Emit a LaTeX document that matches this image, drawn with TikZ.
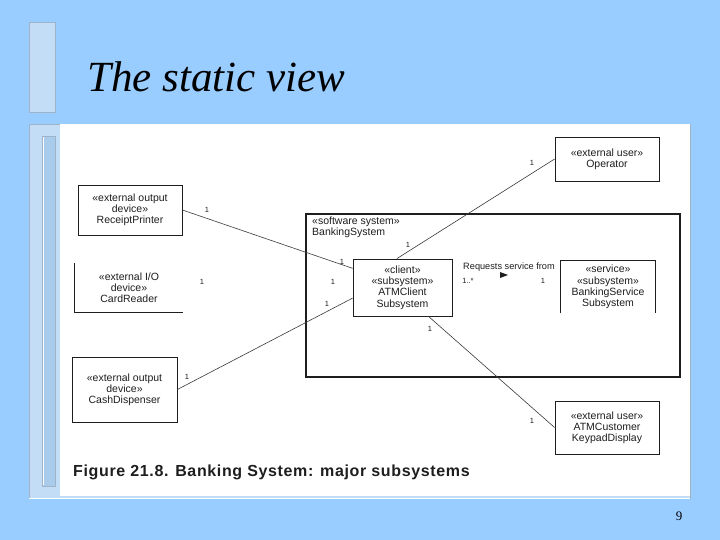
\documentclass[tikz,border=0pt]{standalone}
\usepackage{fontspec}
\setmainfont{Liberation Serif}
\setsansfont{Liberation Sans}
\usepackage{tikz}
\usetikzlibrary{arrows.meta}
\definecolor{slideBg}{HTML}{99CCFF}
\definecolor{slidePanel}{HTML}{C4DDF6}
\definecolor{slideBar}{HTML}{A9CBEC}
\definecolor{slideEdge}{HTML}{9FB3C8}
\definecolor{umlInk}{HTML}{1E1E1E}
\definecolor{umlLine}{HTML}{3A3A3A}

\begin{document}
\begin{tikzpicture}[
  x=1pt,y=-1pt,
  box/.style={draw=umlInk,line width=0.8pt,inner sep=0pt,align=center,text=umlInk,
    font=\sffamily\fontsize{10.5}{11.2}\selectfont},
  assoc/.style={umlLine,line width=0.6pt},
  mult/.style={font=\sffamily\fontsize{7.5}{7.5}\selectfont,text=umlInk,inner sep=0pt}
]
% slide background
\useasboundingbox (0,0) rectangle (720,540);
\fill[slideBg] (0,0) rectangle (720,540);
\filldraw[fill=slidePanel,draw=slideEdge,line width=1pt] (29,23) rectangle (55,113);
\filldraw[fill=slidePanel,draw=slideEdge,line width=1pt] (29,125) rectangle (690,498);
\draw[white,line width=1pt] (29,498) -- (690,498);
\filldraw[fill=slideBar,draw=slideEdge,line width=1pt] (42,137) rectangle (55,486);
\draw[white,line width=1.2pt] (43.5,137) -- (43.5,485);
\fill[white] (60,124) rectangle (690,496);
\node[anchor=base west,font=\itshape\fontsize{43}{43}\selectfont,inner sep=0pt] (title) at (87,92) {The static view};
\node[anchor=base,font=\fontsize{13}{13}\selectfont,inner sep=0pt] (page) at (679,520) {9};

% system boundary
\draw[umlInk,line width=1.2pt] (306,214) rectangle (680,377);
\node[anchor=north west,align=left,inner sep=0pt,text=umlInk,
  font=\sffamily\fontsize{10.5}{11}\selectfont] (sys) at (312,217) {«software system»\\BankingSystem};

% classes
\node[box,minimum width=104,minimum height=44] (op) at (607,159) {«external user»\\Operator};
\node[box,minimum width=104,minimum height=50] (rp) at (130,210) {«external output\\device»\\ReceiptPrinter};
\node[box,draw=none,minimum width=108,minimum height=49] (card) at (129,287.5) {«external I/O\\device»\\CardReader};
\draw[umlInk,line width=0.8pt] (card.north west) -- (card.south west) -- (card.south east);
\node[box,minimum width=99,minimum height=57] (atm) at (402.5,287.5) {«client»\\«subsystem»\\ATMClient\\Subsystem};
\node[box,draw=none,minimum width=94,minimum height=52] (bank) at (608,287) {«service»\\«subsystem»\\BankingService\\Subsystem};
\draw[umlInk,line width=0.8pt] (bank.south west) -- (bank.north west) -- (bank.north east) -- (bank.south east);
\node[box,minimum width=105,minimum height=65] (cash) at (124.5,389.5) {«external output\\device»\\CashDispenser};
\node[box,minimum width=104,minimum height=53] (cust) at (607,427.5) {«external user»\\ATMCustomer\\KeypadDisplay};

% associations
\draw[assoc] (rp.east) -- (atm.159);
\draw[assoc] (cash.east) -- (atm.192);
\draw[assoc] (atm.101) -- (op.west);
\draw[assoc] (atm.-48) -- (cust.west);

% multiplicities
\node[mult] (m1) at (207,210) {1};
\node[mult] (m2) at (342,262) {1};
\node[mult] (m3) at (202,282) {1};
\node[mult] (m4) at (333,282) {1};
\node[mult] (m5) at (187,377) {1};
\node[mult] (m6) at (327,304) {1};
\node[mult] (m7) at (408,245) {1};
\node[mult] (m8) at (532,163) {1};
\node[mult] (m9) at (430,329) {1};
\node[mult] (m10) at (532,421) {1};
\node[mult] (m11) at (468,281) {1..*};
\node[mult] (m12) at (543,281) {1};
\node[mult,font=\sffamily\fontsize{9.2}{9.2}\selectfont] (req) at (509,267) {Requests service from};
\fill[umlInk] (500,272) -- (508,275) -- (500,278) -- cycle;

% caption
\node[anchor=base west,inner sep=0pt,text=umlInk,
  font=\sffamily\bfseries\fontsize{16}{16}\selectfont\addfontfeature{LetterSpace=4}] (cap) at (73,476)
  {Figure 21.8. Banking System: major subsystems};
\end{tikzpicture}
\end{document}
